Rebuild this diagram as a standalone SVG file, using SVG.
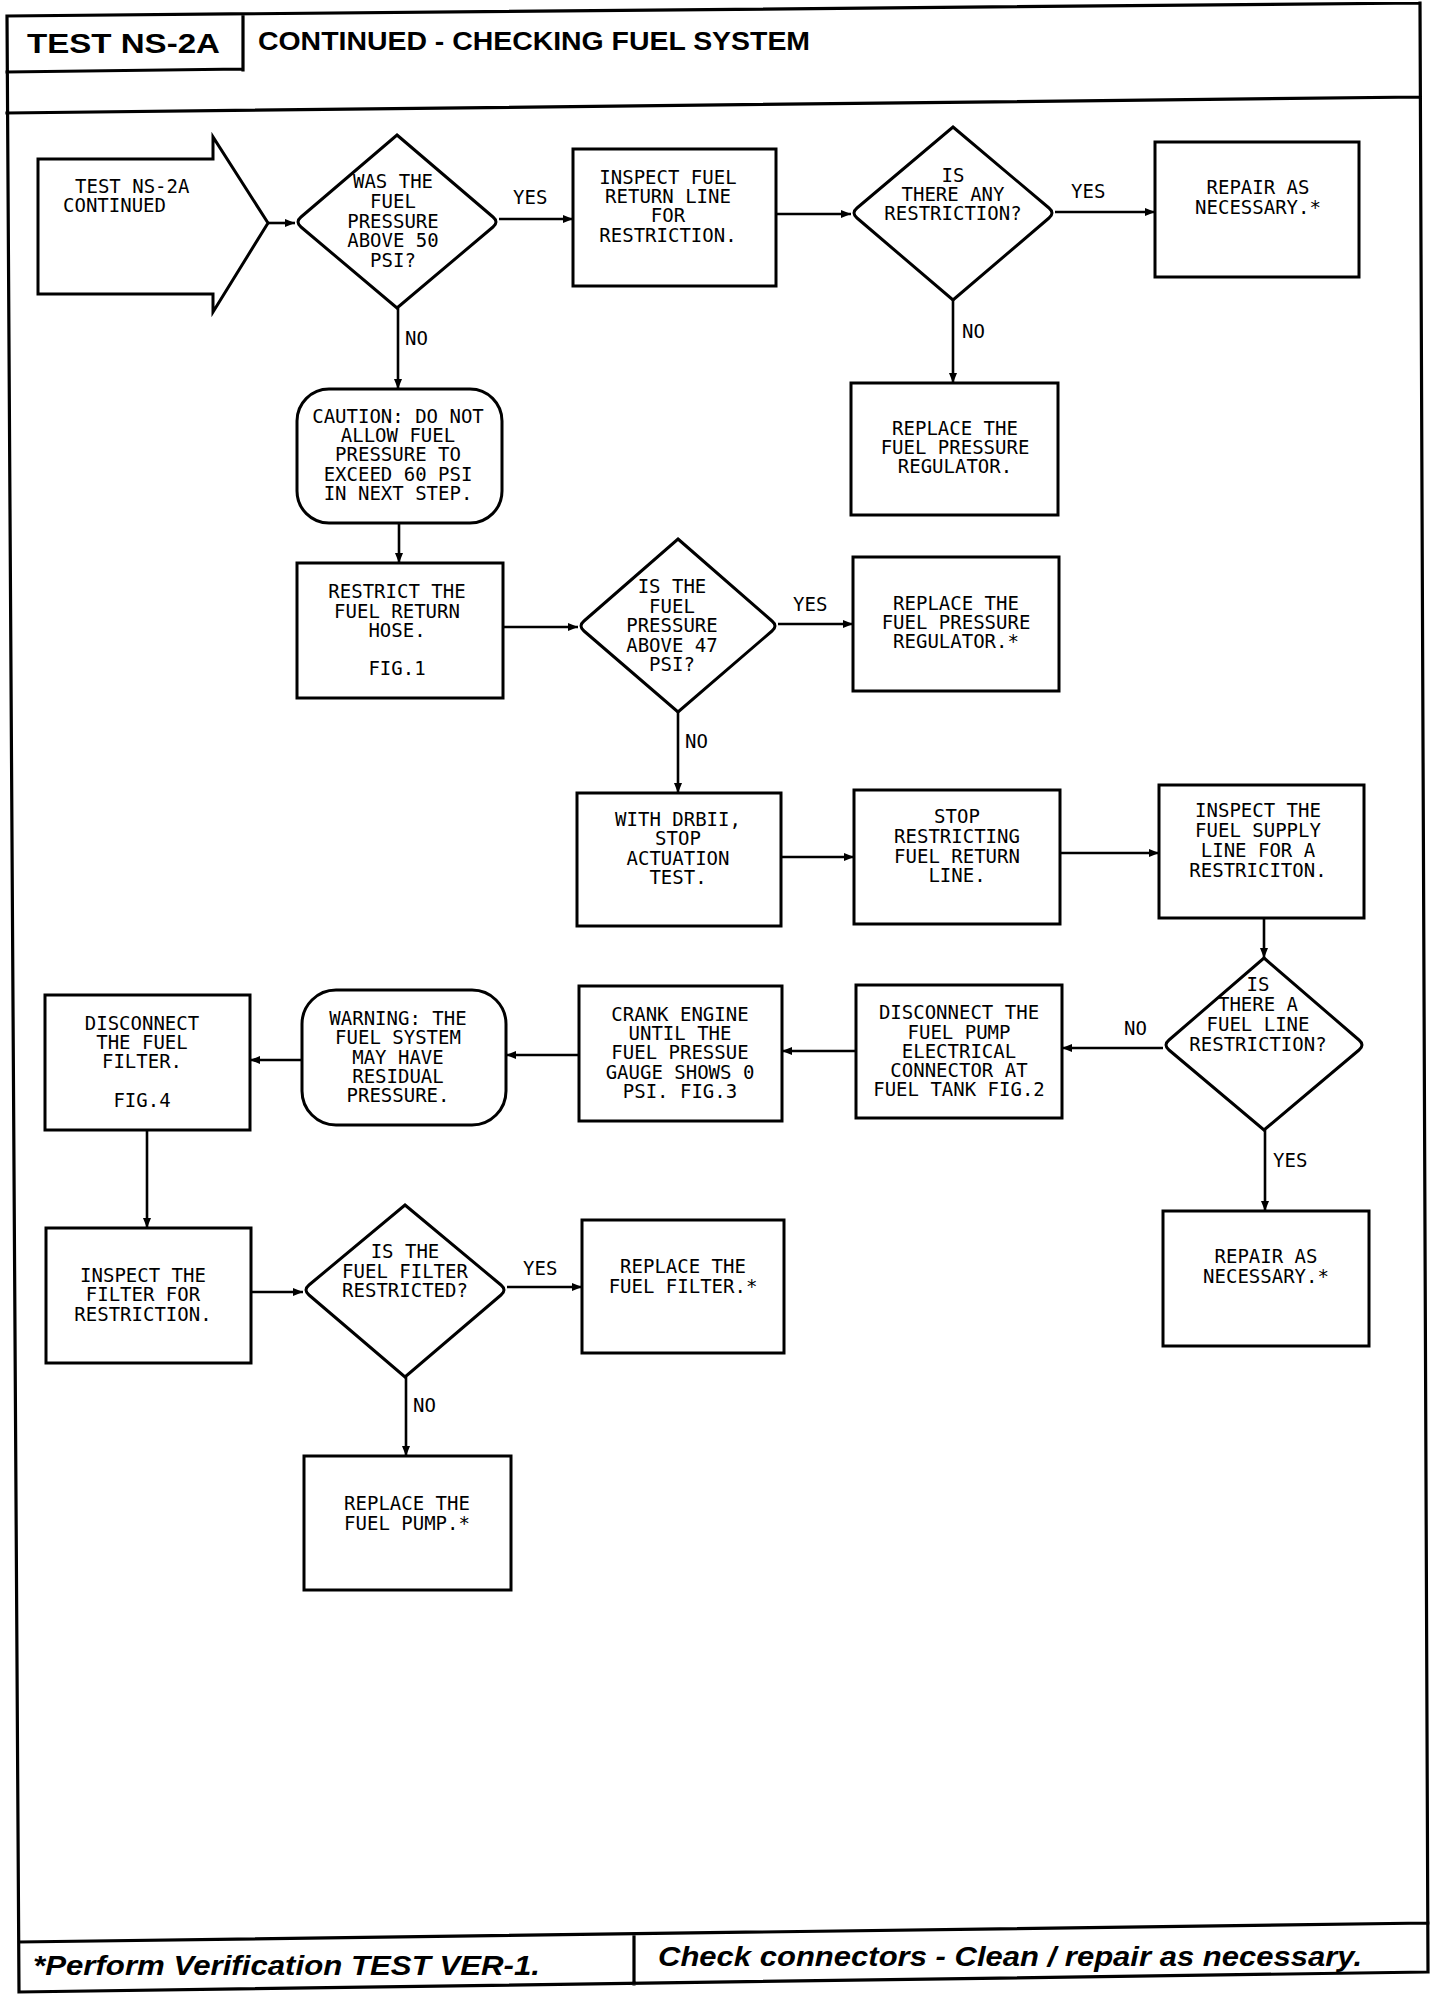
<svg xmlns="http://www.w3.org/2000/svg" width="1456" height="1996" viewBox="0 0 1456 1996">
<style>
.frame{fill:none;stroke:#000;stroke-width:3.2;stroke-linecap:square}
.box{fill:#fff;stroke:#000;stroke-width:3}
.conn{fill:none;stroke:#000;stroke-width:2.6;marker-end:url(#ah)}
.t{font-family:"DejaVu Sans Mono","Liberation Mono",monospace;font-size:19px;text-anchor:middle;fill:#000}
.ts{font-family:"DejaVu Sans Mono","Liberation Mono",monospace;font-size:19px;text-anchor:start;fill:#000}
.lbl{font-family:"DejaVu Sans Mono","Liberation Mono",monospace;font-size:19px;text-anchor:start;fill:#000}
.hdr{font-family:"Liberation Sans",Arial,sans-serif;font-weight:bold;fill:#000}
.ftr{font-family:"Liberation Sans",Arial,sans-serif;font-weight:bold;font-style:italic;font-size:28px;fill:#000}
</style>
<defs>
<marker id="ah" viewBox="0 0 10 8" refX="10" refY="4" markerWidth="10" markerHeight="8" markerUnits="userSpaceOnUse" orient="auto">
<path d="M0,0 L10,4 L0,8 Z" fill="#000"/>
</marker>
</defs>
<rect x="0" y="0" width="1456" height="1996" fill="#fff"/>

<g id="frame">
<path class="frame" d="M7,16 L1420,3 M7,16 L19,1992 M1420,3 L1428,1972 M19,1992 L1428,1972 M7,113 L1420,97 M243,15 L243,70 M7,72 L243,69 M19,1942 L1428,1923 M634,1936 L634,1984"/>
<text class="hdr" x="27" y="53" font-size="28" textLength="193" lengthAdjust="spacingAndGlyphs">TEST NS-2A</text>
<text class="hdr" x="258" y="50" font-size="25" textLength="552" lengthAdjust="spacingAndGlyphs">CONTINUED - CHECKING FUEL SYSTEM</text>
<text class="ftr" x="33" y="1975" textLength="507" lengthAdjust="spacingAndGlyphs">*Perform Verification TEST VER-1.</text>
<text class="ftr" x="658" y="1966" textLength="704" lengthAdjust="spacingAndGlyphs">Check connectors - Clean / repair as necessary.</text>
</g>

<g id="connectors">
<path class="conn" d="M268,223 L295,223"/>
<path class="conn" d="M499,219 L573,219"/>
<path class="conn" d="M776,214 L851,214"/>
<path class="conn" d="M1055,212 L1155,212"/>
<path class="conn" d="M953,300 L953,383"/>
<path class="conn" d="M398,308 L398,389"/>
<path class="conn" d="M399,523 L399,563"/>
<path class="conn" d="M503,627 L578,627"/>
<path class="conn" d="M778,624 L853,624"/>
<path class="conn" d="M678,712 L678,793"/>
<path class="conn" d="M781,857 L854,857"/>
<path class="conn" d="M1060,853 L1159,853"/>
<path class="conn" d="M1264,918 L1264,958"/>
<path class="conn" d="M1163,1048 L1062,1048"/>
<path class="conn" d="M856,1051 L782,1051"/>
<path class="conn" d="M579,1055 L506,1055"/>
<path class="conn" d="M302,1060 L250,1060"/>
<path class="conn" d="M147,1130 L147,1228"/>
<path class="conn" d="M251,1292 L303,1292"/>
<path class="conn" d="M507,1287 L582,1287"/>
<path class="conn" d="M406,1377 L406,1456"/>
<path class="conn" d="M1265,1130 L1265,1211"/>
<text class="lbl" x="513" y="204">YES</text>
<text class="lbl" x="1071" y="198">YES</text>
<text class="lbl" x="962" y="338">NO</text>
<text class="lbl" x="405" y="345">NO</text>
<text class="lbl" x="793" y="611">YES</text>
<text class="lbl" x="685" y="748">NO</text>
<text class="lbl" x="1124" y="1035">NO</text>
<text class="lbl" x="1273" y="1167">YES</text>
<text class="lbl" x="523" y="1275">YES</text>
<text class="lbl" x="413" y="1412">NO</text>
</g>

<g id="start">
<path class="box" d="M38,159 L213,159 L213,137 L268,223 L213,312 L213,294 L38,294 Z"/>
<text class="ts" x="75" y="193">TEST NS-2A</text>
<text class="ts" x="63" y="212">CONTINUED</text>
</g>

<g id="d1">
<path class="box" d="M397,135 L493,217 Q499,222 493,227 L397,308 L301,227 Q295,222 301,217 Z"/>
<text class="t" x="393" y="188">WAS THE</text>
<text class="t" x="393" y="208">FUEL</text>
<text class="t" x="393" y="228">PRESSURE</text>
<text class="t" x="393" y="247">ABOVE 50</text>
<text class="t" x="393" y="267">PSI?</text>
</g>

<g id="b1">
<rect class="box" x="573" y="149" width="203" height="137"/>
<text class="t" x="668" y="184">INSPECT FUEL</text>
<text class="t" x="668" y="203">RETURN LINE</text>
<text class="t" x="668" y="222">FOR</text>
<text class="t" x="668" y="242">RESTRICTION.</text>
</g>

<g id="d2">
<path class="box" d="M953,127 L1049,208 Q1055,213 1049,218 L953,300 L857,218 Q851,213 857,208 Z"/>
<text class="t" x="953" y="182">IS</text>
<text class="t" x="953" y="201">THERE ANY</text>
<text class="t" x="953" y="220">RESTRICTION?</text>
</g>

<g id="r1">
<rect class="box" x="1155" y="142" width="204" height="135"/>
<text class="t" x="1258" y="194">REPAIR AS</text>
<text class="t" x="1258" y="214">NECESSARY.*</text>
</g>

<g id="r2">
<rect class="box" x="851" y="383" width="207" height="132"/>
<text class="t" x="955" y="435">REPLACE THE</text>
<text class="t" x="955" y="454">FUEL PRESSURE</text>
<text class="t" x="955" y="473">REGULATOR.</text>
</g>

<g id="caution">
<rect class="box" x="297" y="389" width="205" height="134" rx="32" ry="32"/>
<text class="t" x="398" y="423">CAUTION: DO NOT</text>
<text class="t" x="398" y="442">ALLOW FUEL</text>
<text class="t" x="398" y="461">PRESSURE TO</text>
<text class="t" x="398" y="481">EXCEED 60 PSI</text>
<text class="t" x="398" y="500">IN NEXT STEP.</text>
</g>

<g id="b2">
<rect class="box" x="297" y="563" width="206" height="135"/>
<text class="t" x="397" y="598">RESTRICT THE</text>
<text class="t" x="397" y="618">FUEL RETURN</text>
<text class="t" x="397" y="637">HOSE.</text>
<text class="t" x="397" y="675">FIG.1</text>
</g>

<g id="d3">
<path class="box" d="M678,539 L772,621 Q778,626 772,631 L678,712 L584,631 Q578,626 584,621 Z"/>
<text class="t" x="672" y="593">IS THE</text>
<text class="t" x="672" y="613">FUEL</text>
<text class="t" x="672" y="632">PRESSURE</text>
<text class="t" x="672" y="652">ABOVE 47</text>
<text class="t" x="672" y="671">PSI?</text>
</g>

<g id="r3">
<rect class="box" x="853" y="557" width="206" height="134"/>
<text class="t" x="956" y="610">REPLACE THE</text>
<text class="t" x="956" y="629">FUEL PRESSURE</text>
<text class="t" x="956" y="648">REGULATOR.*</text>
</g>

<g id="b3">
<rect class="box" x="577" y="793" width="204" height="133"/>
<text class="t" x="678" y="826">WITH DRBII,</text>
<text class="t" x="678" y="845">STOP</text>
<text class="t" x="678" y="865">ACTUATION</text>
<text class="t" x="678" y="884">TEST.</text>
</g>

<g id="b4">
<rect class="box" x="854" y="790" width="206" height="134"/>
<text class="t" x="957" y="823">STOP</text>
<text class="t" x="957" y="843">RESTRICTING</text>
<text class="t" x="957" y="863">FUEL RETURN</text>
<text class="t" x="957" y="882">LINE.</text>
</g>

<g id="b5">
<rect class="box" x="1159" y="785" width="205" height="133"/>
<text class="t" x="1258" y="817">INSPECT THE</text>
<text class="t" x="1258" y="837">FUEL SUPPLY</text>
<text class="t" x="1258" y="857">LINE FOR A</text>
<text class="t" x="1258" y="877">RESTRICITON.</text>
</g>

<g id="d4">
<path class="box" d="M1264,958 L1359,1040 Q1365,1045 1359,1050 L1264,1130 L1169,1050 Q1163,1045 1169,1040 Z"/>
<text class="t" x="1258" y="991">IS</text>
<text class="t" x="1258" y="1011">THERE A</text>
<text class="t" x="1258" y="1031">FUEL LINE</text>
<text class="t" x="1258" y="1051">RESTRICTION?</text>
</g>

<g id="b6">
<rect class="box" x="856" y="985" width="206" height="133"/>
<text class="t" x="959" y="1019">DISCONNECT THE</text>
<text class="t" x="959" y="1039">FUEL PUMP</text>
<text class="t" x="959" y="1058">ELECTRICAL</text>
<text class="t" x="959" y="1077">CONNECTOR AT</text>
<text class="t" x="959" y="1096">FUEL TANK FIG.2</text>
</g>

<g id="b7">
<rect class="box" x="579" y="986" width="203" height="135"/>
<text class="t" x="680" y="1021">CRANK ENGINE</text>
<text class="t" x="680" y="1040">UNTIL THE</text>
<text class="t" x="680" y="1059">FUEL PRESSUE</text>
<text class="t" x="680" y="1079">GAUGE SHOWS 0</text>
<text class="t" x="680" y="1098">PSI. FIG.3</text>
</g>

<g id="warning">
<rect class="box" x="302" y="990" width="204" height="135" rx="34" ry="34"/>
<text class="t" x="398" y="1025">WARNING: THE</text>
<text class="t" x="398" y="1044">FUEL SYSTEM</text>
<text class="t" x="398" y="1064">MAY HAVE</text>
<text class="t" x="398" y="1083">RESIDUAL</text>
<text class="t" x="398" y="1102">PRESSURE.</text>
</g>

<g id="b8">
<rect class="box" x="45" y="995" width="205" height="135"/>
<text class="t" x="142" y="1030">DISCONNECT</text>
<text class="t" x="142" y="1049">THE FUEL</text>
<text class="t" x="142" y="1068">FILTER.</text>
<text class="t" x="142" y="1107">FIG.4</text>
</g>

<g id="b9">
<rect class="box" x="46" y="1228" width="205" height="135"/>
<text class="t" x="143" y="1282">INSPECT THE</text>
<text class="t" x="143" y="1301">FILTER FOR</text>
<text class="t" x="143" y="1321">RESTRICTION.</text>
</g>

<g id="d5">
<path class="box" d="M405,1205 L501,1285 Q507,1290 501,1295 L405,1377 L309,1295 Q303,1290 309,1285 Z"/>
<text class="t" x="405" y="1258">IS THE</text>
<text class="t" x="405" y="1278">FUEL FILTER</text>
<text class="t" x="405" y="1297">RESTRICTED?</text>
</g>

<g id="r4">
<rect class="box" x="582" y="1220" width="202" height="133"/>
<text class="t" x="683" y="1273">REPLACE THE</text>
<text class="t" x="683" y="1293">FUEL FILTER.*</text>
</g>

<g id="r5">
<rect class="box" x="304" y="1456" width="207" height="134"/>
<text class="t" x="407" y="1510">REPLACE THE</text>
<text class="t" x="407" y="1530">FUEL PUMP.*</text>
</g>

<g id="r6">
<rect class="box" x="1163" y="1211" width="206" height="135"/>
<text class="t" x="1266" y="1263">REPAIR AS</text>
<text class="t" x="1266" y="1283">NECESSARY.*</text>
</g>
</svg>
